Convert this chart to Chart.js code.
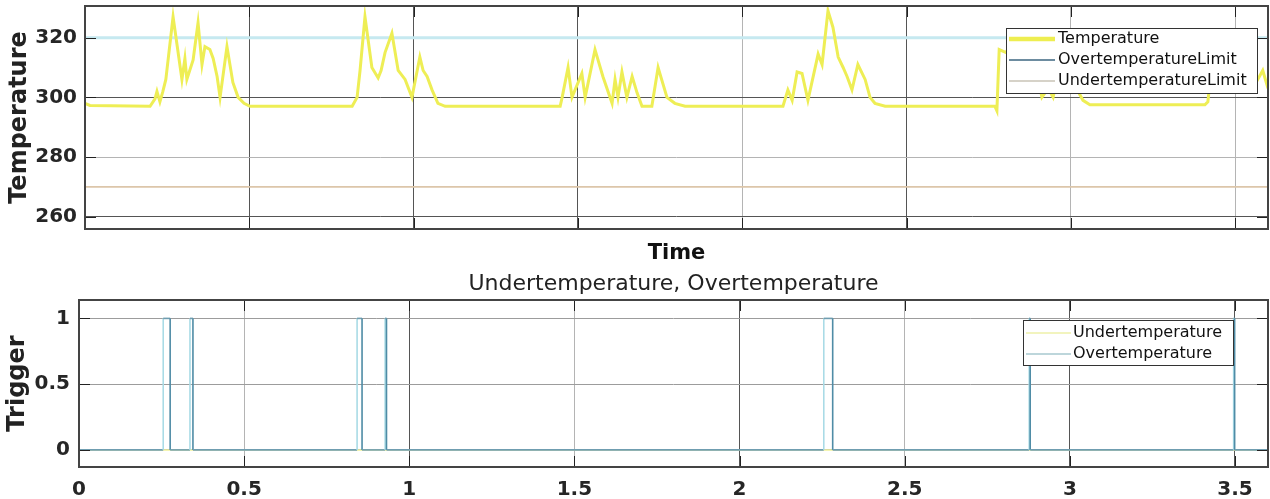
<!DOCTYPE html>
<html>
<head>
<meta charset="utf-8">
<title>Temperature / Trigger</title>
<script src="https://cdn.jsdelivr.net/npm/chart.js@4.4.1/dist/chart.umd.min.js"></script>
<style>
  html, body { margin: 0; padding: 0; background: #ffffff; }
  canvas { display: block; }
</style>
</head>
<body>
<canvas id="topChart" width="1270" height="270"></canvas>
<canvas id="bottomChart" width="1270" height="229"></canvas>
<script>
// ---------- DATA ----------
const tempTime = [0, 0.015, 0.198, 0.213, 0.219, 0.228, 0.237, 0.246, 0.268, 0.295,
  0.304, 0.310, 0.329, 0.344, 0.356, 0.365, 0.380, 0.390, 0.402, 0.411,
  0.432, 0.450, 0.466, 0.484, 0.502, 0.813, 0.828, 0.837, 0.852, 0.873,
  0.892, 0.901, 0.913, 0.934, 0.953, 0.974, 0.995, 1.019, 1.029, 1.041,
  1.056, 1.074, 1.096, 1.446, 1.452, 1.470, 1.482, 1.512, 1.522, 1.552,
  1.576, 1.604, 1.613, 1.622, 1.634, 1.649, 1.665, 1.680, 1.695, 1.725,
  1.744, 1.771, 1.795, 1.826, 2.124, 2.139, 2.152, 2.167, 2.182, 2.200,
  2.231, 2.243, 2.261, 2.276, 2.292, 2.307, 2.319, 2.334, 2.352, 2.374,
  2.389, 2.404, 2.435, 2.769, 2.775, 2.782, 2.803, 2.821, 2.839, 2.858,
  2.876, 2.894, 2.912, 2.931, 2.946, 2.967, 2.985, 3.004, 3.022, 3.037,
  3.058, 3.408, 3.417, 3.430, 3.454, 3.475, 3.493, 3.512, 3.533, 3.554,
  3.569, 3.584, 3.600];
const tempValue = [298, 297.3, 297, 299.5, 302, 298.5, 302, 306, 327, 306,
  313, 306, 312.5, 325, 311, 317, 316, 313, 307, 300,
  317, 305, 300, 298, 297, 297, 300, 309, 327, 310,
  306.5, 309, 315, 321.5, 309, 306, 300, 313.5, 309, 307,
  302.5, 298, 297, 297, 300, 310, 300, 308, 300, 316,
  307, 298, 306, 300, 308.5, 300, 307, 301.5, 297, 297,
  310, 300, 298, 297, 297, 302.5, 299, 308.5, 308, 299,
  314.5, 311, 329, 323.5, 313.5, 310, 307, 302.5, 311, 306,
  300, 298, 297, 297, 295.5, 316, 315, 319, 308, 314,
  321, 310, 300, 303, 300, 311, 305, 309, 302, 299,
  297.5, 297.5, 298.5, 312, 306, 316, 321, 310, 314, 308,
  306, 309, 303];

const limitTime = [0, 3.6];
const overLimitValue = [320, 320];
const underLimitValue = [270, 270];

const overTime = [0,
  0.255, 0.255, 0.276, 0.276,
  0.336, 0.336, 0.345, 0.345,
  0.842, 0.842, 0.857, 0.857,
  0.927, 0.927, 0.931, 0.931,
  2.255, 2.255, 2.282, 2.282,
  2.877, 2.877, 2.880, 2.880,
  3.496, 3.496, 3.499, 3.499,
  3.6];
const overValue = [0,
  0, 1, 1, 0,
  0, 1, 1, 0,
  0, 1, 1, 0,
  0, 1, 1, 0,
  0, 1, 1, 0,
  0, 1, 1, 0,
  0, 1, 1, 0,
  0];
const underTime = [0, 3.6];
const underValue = [0, 0];

const xTickStep = 0.5;
const tempTickStep = 20;
const trigTickStep = 0.5;

// ---------- HELPERS ----------
const FONT = "'DejaVu Sans', 'Liberation Sans', sans-serif";
Chart.defaults.font.family = FONT;
Chart.defaults.color = '#222';

function pts(xs, ys) { return xs.map((x, i) => ({ x: x, y: ys[i] })); }
function fmt(v) { return String(Math.round(v * 1000) / 1000); }

const GRID_DARK = '#555555';
const GRID_LIGHT = '#b4b4b4';
function shade(darkVals) {
  return ctx => (ctx.tick && darkVals.some(v => Math.abs(v - ctx.tick.value) < 1e-6)) ? GRID_DARK : GRID_LIGHT;
}
function noPad(scale) { scale.paddingTop = 0; scale.paddingBottom = 0; scale.paddingLeft = 0; scale.paddingRight = 0; }

const framePlugin = {
  id: 'matlabFrame',
  afterDraw(chart, args, o) {
    const ctx = chart.ctx, a = chart.chartArea;
    const xs = chart.scales.x, ys = chart.scales.y;
    ctx.save();
    // inner tick marks
    ctx.lineWidth = 1;
    ctx.strokeStyle = o.tickColor;
    ctx.beginPath();
    ys.ticks.forEach(t => {
      const p = Math.round(ys.getPixelForValue(t.value)) + 0.5;
      ctx.moveTo(a.left, p); ctx.lineTo(a.left + o.tickLen, p);
      ctx.moveTo(a.right, p); ctx.lineTo(a.right - o.tickLen, p);
    });
    xs.ticks.forEach(t => {
      const p = Math.round(xs.getPixelForValue(t.value)) + 0.5;
      ctx.moveTo(p, a.bottom); ctx.lineTo(p, a.bottom - o.tickLen);
      ctx.moveTo(p, a.top); ctx.lineTo(p, a.top + o.tickLen);
    });
    ctx.stroke();
    // box
    ctx.lineWidth = o.frameWidth;
    ctx.strokeStyle = o.frameColor;
    ctx.strokeRect(a.left, a.top, a.right - a.left, a.bottom - a.top);
    // legend box
    const L = o.legend;
    if (L) {
      ctx.fillStyle = '#ffffff';
      ctx.fillRect(L.x, L.y, L.w, L.h);
      ctx.lineWidth = 1;
      ctx.strokeStyle = L.border;
      ctx.strokeRect(L.x + 0.5, L.y + 0.5, L.w, L.h);
      ctx.font = L.font;
      ctx.textBaseline = 'middle';
      ctx.textAlign = 'left';
      L.items.forEach((di, i) => {
        const ds = chart.data.datasets[di];
        const y = L.y + L.firstRow + i * L.rowGap;
        ctx.strokeStyle = ds.legendColor;
        ctx.lineWidth = ds.legendWidth;
        ctx.beginPath();
        ctx.moveTo(L.x + L.sampleX0, y);
        ctx.lineTo(L.x + L.sampleX1, y);
        ctx.stroke();
        ctx.fillStyle = L.textColor;
        ctx.fillText(ds.label, L.x + L.textX, y);
      });
    }
    // subtitle above plot
    if (o.subtitle) {
      ctx.font = o.subtitleFont;
      ctx.fillStyle = '#222';
      ctx.textAlign = 'center';
      ctx.textBaseline = 'alphabetic';
      ctx.fillText(o.subtitle, (a.left + a.right) / 2, o.subtitleY);
    }
    ctx.restore();
  }
};

// ---------- TOP CHART ----------
new Chart(document.getElementById('topChart'), {
  type: 'line',
  data: {
    datasets: [
      { label: 'Temperature', data: pts(tempTime, tempValue), borderColor: '#eeee55', borderWidth: 3,
        legendColor: '#eeee50', legendWidth: 4.5, order: 0 },
      { label: 'OvertemperatureLimit', data: pts(limitTime, overLimitValue), borderColor: '#c6e9f0', borderWidth: 3,
        legendColor: '#3d6680', legendWidth: 1.5, order: 1 },
      { label: 'UndertemperatureLimit', data: pts(limitTime, underLimitValue), borderColor: '#dcc6aa', borderWidth: 1.8,
        legendColor: '#c9c3b6', legendWidth: 1.5, order: 2 }
    ]
  },
  options: {
    responsive: false,
    animation: false,
    devicePixelRatio: 1,
    elements: { point: { radius: 0 }, line: { tension: 0 } },
    layout: { padding: { left: 0, right: 2, top: 6, bottom: 0 } },
    plugins: {
      legend: { display: false },
      tooltip: { enabled: false },
      matlabFrame: {
        tickColor: '#222', tickLen: 11, frameColor: '#444', frameWidth: 2,
        legend: {
          x: 1006, y: 28, w: 251, h: 65, border: '#333',
          font: "16px " + FONT, textColor: '#111',
          firstRow: 11, rowGap: 21, sampleX0: 3, sampleX1: 49, textX: 52,
          items: [0, 1, 2]
        }
      }
    },
    scales: {
      x: {
        type: 'linear', min: 0, max: 3.6,
        ticks: { display: false, stepSize: xTickStep, includeBounds: false },
        grid: { color: shade([0.5, 1, 1.5, 2.5]), lineWidth: 1, drawTicks: false },
        border: { display: false },
        title: { display: true, text: 'Time', color: '#111',
                 font: { size: 21, weight: 'bold' }, padding: { top: 0, bottom: 4 } },
        afterFit(scale) { scale.height = 41; noPad(scale); }
      },
      y: {
        type: 'linear', min: 255.9, max: 330.6,
        ticks: { stepSize: tempTickStep, includeBounds: false, padding: 8, color: '#262626',
                 font: { size: 20, weight: 'bold' }, callback: fmt },
        grid: { color: shade([260, 300]), lineWidth: 1, drawTicks: false },
        border: { display: false },
        title: { display: true, text: 'Temperature', color: '#222',
                 font: { size: 24, weight: 'bold' }, padding: { top: 5, bottom: 0 } },
        afterFit(scale) { scale.width = 85; noPad(scale); }
      }
    }
  },
  plugins: [framePlugin]
});

// ---------- BOTTOM CHART ----------
new Chart(document.getElementById('bottomChart'), {
  type: 'line',
  data: {
    datasets: [
      { label: 'Undertemperature', data: pts(underTime, underValue), borderColor: '#f2f29a', borderWidth: 1.5,
        legendColor: '#eef0a8', legendWidth: 1.5, order: 1 },
      { label: 'Overtemperature', data: pts(overTime, overValue), borderColor: '#6f9db0', borderWidth: 1.6,
        legendColor: '#a7c8cf', legendWidth: 1.5, order: 0,
        segment: {
          borderColor: c => c.p0.parsed.y < c.p1.parsed.y ? '#a9dbe6'
                          : (c.p0.parsed.y > c.p1.parsed.y ? '#4f8ca6' : undefined)
        } }
    ]
  },
  options: {
    responsive: false,
    animation: false,
    devicePixelRatio: 1,
    elements: { point: { radius: 0 }, line: { tension: 0 } },
    layout: { padding: { left: 0, right: 2, top: 30, bottom: 0 } },
    plugins: {
      legend: { display: false },
      tooltip: { enabled: false },
      matlabFrame: {
        tickColor: '#222', tickLen: 11, frameColor: '#444', frameWidth: 2,
        subtitle: 'Undertemperature, Overtemperature',
        subtitleFont: "22px " + FONT, subtitleY: 20,
        legend: {
          x: 1023, y: 50, w: 210, h: 45, border: '#333',
          font: "16px " + FONT, textColor: '#111',
          firstRow: 13, rowGap: 21, sampleX0: 3, sampleX1: 48, textX: 50,
          items: [0, 1]
        }
      }
    },
    scales: {
      x: {
        type: 'linear', min: 0, max: 3.6,
        ticks: { stepSize: xTickStep, includeBounds: false, padding: 11, color: '#262626',
                 maxRotation: 0, font: { size: 20, weight: 'bold' }, callback: fmt },
        grid: { color: shade([1, 2, 3, 3.5]), lineWidth: 1, drawTicks: false },
        border: { display: false },
        afterFit(scale) { scale.height = 32; }
      },
      y: {
        type: 'linear', min: -0.13, max: 1.14,
        ticks: { stepSize: trigTickStep, includeBounds: false, padding: 9, color: '#262626',
                 font: { size: 20, weight: 'bold' }, callback: fmt },
        grid: { color: '#9c9c9c', lineWidth: 1, drawTicks: false },
        border: { display: false },
        title: { display: true, text: 'Trigger', color: '#222',
                 font: { size: 24, weight: 'bold' }, padding: { top: 3, bottom: 0 } },
        afterFit(scale) { scale.width = 79; noPad(scale); }
      }
    }
  },
  plugins: [framePlugin]
});
</script>
</body>
</html>
